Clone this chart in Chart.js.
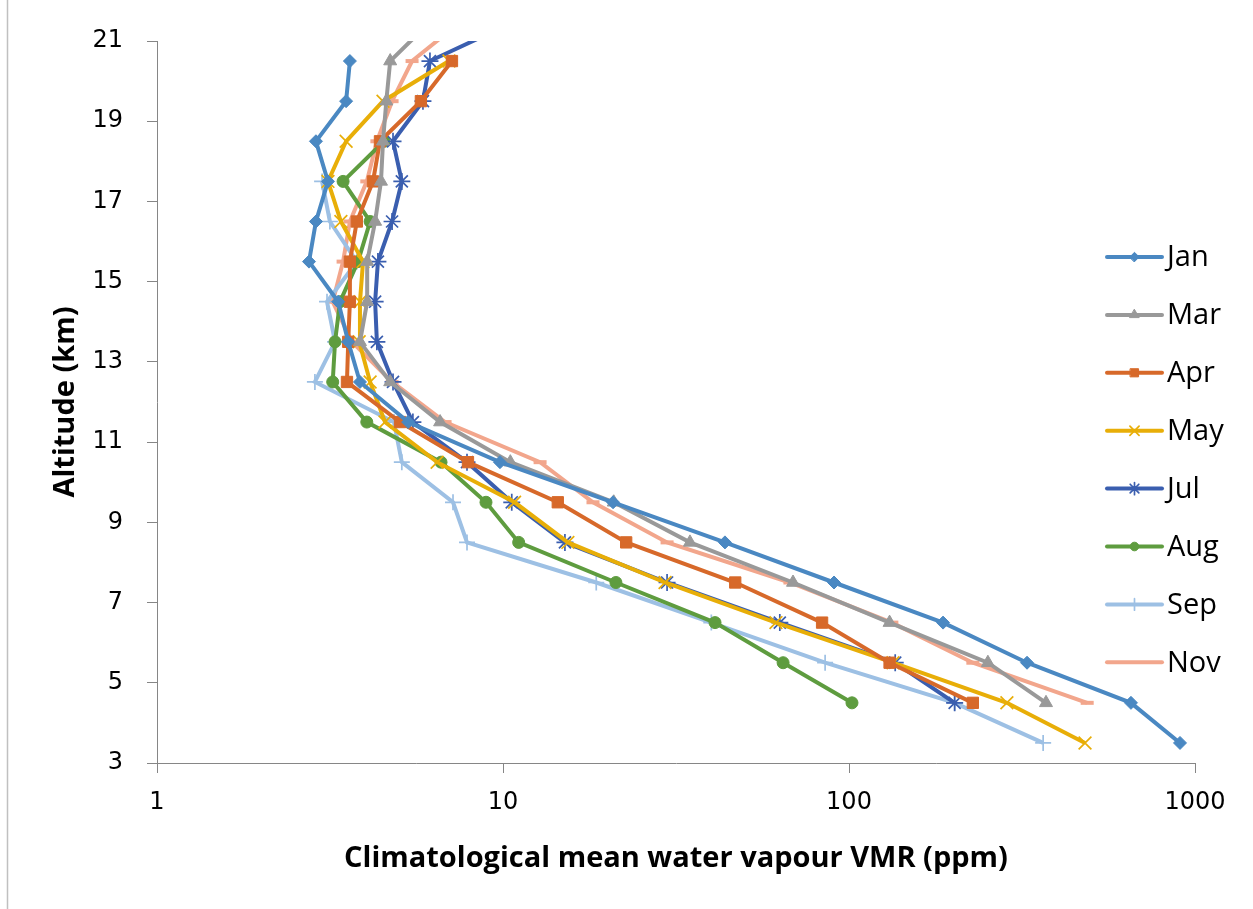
<!DOCTYPE html>
<html>
<head>
<meta charset="utf-8">
<script src="https://cdn.jsdelivr.net/npm/chart.js@4/dist/chart.umd.min.js"></script>
<style>
  html, body { margin: 0; padding: 0; background: #ffffff; }
  #wrap { width: 1253px; height: 909px; position: relative; }
</style>
</head>
<body>
<div id="wrap"><canvas id="c" width="1253" height="909"></canvas></div>
<script>
// ---- Data ----
const altitudes = [3.5, 4.5, 5.5, 6.5, 7.5, 8.5, 9.5, 10.5, 11.5, 12.5, 13.5, 14.5, 15.5, 16.5, 17.5, 18.5, 19.5, 20.5, 21.5];
const months = ['Jan', 'Mar', 'Apr', 'May', 'Jul', 'Aug', 'Sep', 'Nov'];

const vmrJan = [905, 653, 327, 187, 90.5, 43.8, 20.8, 9.8, 5.32, 3.86, 3.57, 3.34, 2.75, 2.88, 3.12, 2.88, 3.52, 3.61, null];
const vmrMar = [null, 371, 252, 131, 68.9, 34.7, 20.9, 10.5, 6.58, 4.72, 3.86, 4.05, 4.05, 4.27, 4.44, 4.5, 4.6, 4.72, 6.2];
const vmrApr = [null, 228, 131, 83.6, 46.9, 22.7, 14.4, 7.92, 5.04, 3.54, 3.57, 3.61, 3.61, 3.78, 4.21, 4.41, 5.79, 7.12, null];
const vmrMay = [481, 286, 134, 61.5, 29.4, 15.4, 10.8, 6.45, 4.56, 4.13, 3.84, 3.86, 3.94, 3.40, 3.12, 3.52, 4.5, 6.98, null];
const vmrJul = [null, 202, 136, 63.1, 29.8, 15.1, 10.6, 7.87, 5.49, 4.81, 4.32, 4.27, 4.35, 4.78, 5.10, 4.81, 5.87, 6.15, 10.9];
const vmrAug = [null, 102, 64.5, 41.0, 21.2, 11.1, 8.93, 6.62, 4.04, 3.22, 3.27, 3.38, 3.81, 4.13, 3.45, 4.53, null, null, null];
const vmrSep = [364, 202, 85.3, 40.0, 18.6, 7.87, 7.17, 5.1, 4.84, 2.86, 3.27, 3.10, 3.78, 3.16, 3.0, null, null, null, null];
const vmrNov = [null, 488, 228, 133, 67.5, 29.8, 18.2, 12.8, 6.80, 4.78, 3.66, 3.22, 3.45, 3.61, 4.04, 4.32, 4.78, 5.46, 7.6];

const xTickValues = [1, 10, 100, 1000];
const yTickValues = [3, 5, 7, 9, 11, 13, 15, 17, 19, 21];
const xTitle = 'Climatological mean water vapour VMR (ppm)';
const yTitle = 'Altitude (km)';

// ---- Styles ----
const seriesValues = [vmrJan, vmrMar, vmrApr, vmrMay, vmrJul, vmrAug, vmrSep, vmrNov];
const seriesColors = ['#4A88C2', '#999999', '#D7692A', '#E8AE08', '#3A5EAF', '#5E9C3F', '#9DC0E4', '#F2A68C'];
const seriesPointStyles = ['rectRot', 'triangle', 'rect', 'crossRot', 'star', 'circle', 'cross', 'line'];
const seriesPointRadius = [6.5, 7.5, 8, 9, 8.5, 6, 8, 6.5];
const seriesPointBorder = [1, 1, 1, 1.7, 1.7, 1, 1.7, 4];

const datasets = months.map((m, i) => {
  const pts = [];
  altitudes.forEach((a, j) => {
    const v = seriesValues[i][j];
    if (v !== null && v !== undefined) pts.push({ x: v, y: a });
  });
  return {
    label: m,
    data: pts,
    showLine: true,
    borderColor: seriesColors[i],
    backgroundColor: seriesColors[i],
    borderWidth: 4,
    pointStyle: seriesPointStyles[i],
    pointRadius: seriesPointRadius[i],
    pointHoverRadius: seriesPointRadius[i],
    pointBackgroundColor: seriesColors[i],
    pointBorderColor: seriesColors[i],
    pointBorderWidth: seriesPointBorder[i],
    tension: 0,
    clip: 0
  };
});

// Custom legend + frame plugin
const legendPlugin = {
  id: 'excelLegend',
  beforeDraw(chart) {
    const ctx = chart.ctx;
    ctx.save();
    ctx.fillStyle = '#ffffff';
    ctx.fillRect(0, 0, chart.width, chart.height);
    ctx.strokeStyle = '#c0c0c0';
    ctx.lineWidth = 1.5;
    ctx.beginPath();
    ctx.moveTo(7.5, 0);
    ctx.lineTo(7.5, chart.height);
    ctx.stroke();
    ctx.restore();
  },
  afterDatasetsDraw(chart) {
    const ctx = chart.ctx;
    const x0 = 1107, x1 = 1162, tx = 1167;
    const y0 = 257, gap = 57.9;
    ctx.save();
    chart.data.datasets.forEach((ds, i) => {
      const y = y0 + i * gap;
      ctx.strokeStyle = ds.borderColor;
      ctx.lineWidth = 4;
      ctx.lineCap = 'round';
      ctx.beginPath();
      ctx.moveTo(x0, y);
      ctx.lineTo(x1, y);
      ctx.stroke();
      if (ds.pointStyle !== 'line') {
        ctx.fillStyle = ds.pointBackgroundColor;
        ctx.strokeStyle = ds.pointBorderColor;
        ctx.lineWidth = ds.pointBorderWidth;
        Chart.helpers.drawPoint(ctx, {
          pointStyle: ds.pointStyle,
          radius: ds.pointRadius * 0.72,
          rotation: 0,
          borderWidth: ds.pointBorderWidth
        }, (x0 + x1) / 2, y);
      }
      ctx.fillStyle = '#000000';
      ctx.font = '29px "Open Sans"';
      ctx.textBaseline = 'middle';
      ctx.textAlign = 'left';
      ctx.fillText(ds.label, tx, y + 1);
    });
    ctx.restore();
  }
};

const axisColor = '#868686';

new Chart(document.getElementById('c'), {
  type: 'scatter',
  data: { datasets },
  plugins: [legendPlugin],
  options: {
    responsive: false,
    animation: false,
    devicePixelRatio: 1,
    layout: { padding: { left: 0, top: 41, right: 58, bottom: 0 } },
    plugins: {
      legend: { display: false },
      tooltip: { enabled: false },
      title: { display: false }
    },
    scales: {
      x: {
        type: 'logarithmic',
        min: 1,
        max: 1000,
        afterBuildTicks(scale) { scale.ticks = xTickValues.map(v => ({ value: v })); },
        afterFit(scale) { scale.height = 146; },
        ticks: {
          autoSkip: false,
          maxRotation: 0,
          padding: 15,
          color: '#000000',
          font: { family: '"DejaVu Sans"', size: 24 },
          callback: (v) => String(v)
        },
        grid: { drawOnChartArea: false, drawTicks: true, tickLength: 10, color: axisColor, lineWidth: 1 },
        border: { display: true, color: axisColor, width: 1 },
        title: {
          display: true,
          text: xTitle,
          color: '#000000',
          font: { family: '"Open Sans"', size: 29, weight: 'bold' },
          padding: { top: 0, bottom: 33 }
        }
      },
      y: {
        type: 'linear',
        min: 3,
        max: 21,
        afterBuildTicks(scale) { scale.ticks = yTickValues.map(v => ({ value: v })); },
        afterFit(scale) { scale.width = 157; },
        ticks: {
          autoSkip: false,
          padding: 24,
          color: '#000000',
          font: { family: '"DejaVu Sans"', size: 24 }
        },
        grid: { drawOnChartArea: false, drawTicks: true, tickLength: 10, color: axisColor, lineWidth: 1 },
        border: { display: true, color: axisColor, width: 1 },
        title: {
          display: true,
          text: yTitle,
          color: '#000000',
          font: { family: '"Open Sans"', size: 29, weight: 'bold' },
          padding: { top: 48, bottom: 0 }
        }
      }
    }
  }
});
</script>
</body>
</html>
